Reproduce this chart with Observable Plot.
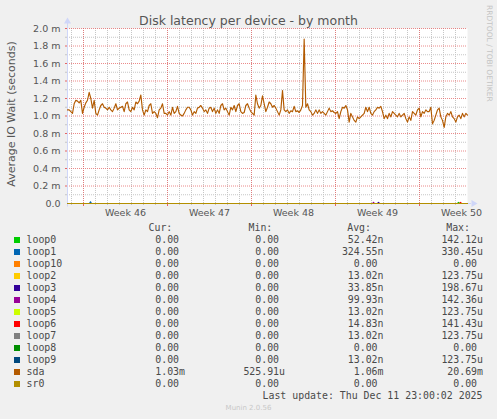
<!DOCTYPE html>
<html>
<head>
<meta charset="utf-8">
<script src="https://cdn.jsdelivr.net/npm/d3@7"></script>
<script src="https://cdn.jsdelivr.net/npm/@observablehq/plot@0.6"></script>
<style>
html, body { margin: 0; padding: 0; background: #f0f0f0; }
#wrap { position: relative; width: 497px; height: 419px; overflow: hidden; background: #f0f0f0; font-family: "DejaVu Sans", sans-serif; color: #555; }
#chart { position: absolute; left: 0; top: 0; }
.abs { position: absolute; white-space: pre; }
.mono { font-family: "DejaVu Sans Mono", monospace; font-size: 9.9px; line-height: 12px; height: 12px; color: #4a4a4a; }
</style>
</head>
<body>
<div id="wrap"><div id="chart"></div></div>
<script>
// ---------- text ----------
const title = "Disk latency per device - by month";
const yLabel = "Average IO Wait (seconds)";
const sideNote = "RRDTOOL / TOBI OETIKER";
const footer = "Munin 2.0.56";
const lastUpdate = "Last update: Thu Dec 11 23:00:02 2025";
const legendHeaders = ["Cur:", "Min:", "Avg:", "Max:"];

// ---------- time axis ----------
const rangeStart = "2025-11-08T16:00:00Z";
const rangeEnd = "2025-12-12T00:00:00Z";
const sampleMinutes = 200;
const weekStarts = ["2025-11-10", "2025-11-17", "2025-11-24", "2025-12-01", "2025-12-08"];
const weekLabels = ["Week 46", "Week 47", "Week 48", "Week 49", "Week 50"];

// ---------- value axis (milliseconds) ----------
const yTicks = [0, 0.2, 0.4, 0.6, 0.8, 1.0, 1.2, 1.4, 1.6, 1.8, 2.0];
const yTickLabels = ["0.0", "0.2 m", "0.4 m", "0.6 m", "0.8 m", "1.0 m", "1.2 m", "1.4 m", "1.6 m", "1.8 m", "2.0 m"];

// ---------- devices ----------
const devices = ["loop0", "loop1", "loop10", "loop2", "loop3", "loop4", "loop5", "loop6", "loop7", "loop8", "loop9", "sda", "sr0"];
const colors = ["#00CC00", "#0066B3", "#FF8000", "#FFCC00", "#330099", "#990099", "#CCFF00", "#FF0000", "#808080", "#008F00", "#00487D", "#B35A00", "#B38F00"];
const curValues = ["0.00", "0.00", "0.00", "0.00", "0.00", "0.00", "0.00", "0.00", "0.00", "0.00", "0.00", "1.03m", "0.00"];
const minValues = ["0.00", "0.00", "0.00", "0.00", "0.00", "0.00", "0.00", "0.00", "0.00", "0.00", "0.00", "525.91u", "0.00"];
const avgValues = ["52.42n", "324.55n", "0.00", "13.02n", "33.85n", "99.93n", "13.02n", "14.83n", "13.02n", "0.00", "13.02n", "1.06m", "0.00"];
const maxValues = ["142.12u", "330.45u", "0.00", "123.75u", "198.67u", "142.36u", "123.75u", "141.43u", "123.75u", "0.00", "123.75u", "20.69m", "0.00"];

// sda average IO wait (ms), one sample every 200 minutes from rangeStart
const sdaValues = [
  1.07,1.07,1.05,1.03,1.14,1.18,1.17,1.15,1.18,1.03,1.10,1.15,1.18,1.27,1.20,1.09,1.18,1.03,1.01,1.07,
  1.12,1.14,1.10,1.09,1.07,1.10,1.07,1.05,1.09,1.14,1.07,1.09,1.10,1.11,1.05,1.14,1.16,1.07,1.05,1.10,
  1.07,1.16,1.14,1.17,1.24,1.07,1.01,1.07,1.05,1.12,1.14,1.03,1.05,1.03,0.98,1.07,1.09,1.14,1.03,
  1.03,1.01,1.05,1.01,1.10,1.03,1.05,1.11,1.03,1.01,1.00,1.03,1.07,1.10,1.10,1.07,1.01,1.05,1.03,1.09,
  1.10,1.12,1.09,1.05,1.07,1.03,1.09,1.10,1.05,1.09,1.03,1.07,1.03,1.12,1.14,1.07,1.09,1.05,1.01,1.10,
  1.07,1.12,1.05,1.12,1.14,1.05,1.03,1.04,1.12,1.14,1.09,1.05,1.03,1.01,1.24,1.14,1.09,1.12,1.23,1.14,
  1.05,1.10,1.16,1.14,1.10,1.12,1.09,1.05,1.01,1.07,1.29,1.07,1.05,1.07,1.03,1.06,1.05,1.11,1.05,1.06,
  1.04,1.07,1.12,1.88,1.10,1.14,1.07,1.05,1.01,1.03,1.07,1.03,1.07,1.03,1.05,1.03,1.01,1.05,1.09,1.05,
  1.06,1.04,1.03,1.05,0.97,1.05,1.10,1.09,1.12,1.07,0.93,1.03,0.99,0.95,0.93,0.99,0.97,0.99,1.01,1.03,
  1.10,1.05,1.10,1.03,1.01,1.05,1.07,1.10,1.09,1.11,1.05,0.97,1.01,0.97,1.03,0.99,1.05,1.03,1.01,0.99,
  1.03,0.99,1.01,1.03,0.97,0.93,0.99,0.95,1.05,1.03,1.01,1.07,1.09,0.99,1.05,1.03,1.07,1.05,1.05,1.10,
  0.91,0.95,1.01,1.07,1.09,0.99,0.95,0.87,0.99,1.03,1.01,1.05,0.99,0.97,0.93,0.99,1.01,0.97,1.03,0.99,
  1.03,1.01
];

// tiny bursts of the loop devices (time, ms); otherwise 0
const loopBurstDevices = ["loop1", "loop4", "loop3", "loop0", "loop6"];
const loopBurstTimes = ["2025-11-10T14:00:00Z", "2025-12-04T04:00:00Z", "2025-12-04T14:00:00Z", "2025-12-11T06:00:00Z", "2025-12-11T10:00:00Z"];
const loopBurstValues = [0.02, 0.014, 0.012, 0.012, 0.012];

// ---------- build series ----------
const t0 = new Date(rangeStart), t1 = new Date(rangeEnd);
const HOUR = 3600e3, DAY = 24 * HOUR;
function seriesFor(name) {
  if (name === "sda") return sdaValues.map((v, i) => ({t: new Date(+t0 + i * sampleMinutes * 60e3), v}));
  const pts = [{t: t0, v: 0}];
  loopBurstDevices.forEach((d, k) => {
    if (d !== name) return;
    const tb = new Date(loopBurstTimes[k]);
    pts.push({t: new Date(+tb - 2 * HOUR), v: 0}, {t: tb, v: loopBurstValues[k]}, {t: new Date(+tb + 2 * HOUR), v: 0});
  });
  pts.push({t: t1, v: 0});
  return pts;
}

const weekStartDates = weekStarts.map(s => new Date(s + "T00:00:00Z"));
const weekMids = weekStartDates.map(d => new Date(+d + 3.5 * DAY));
const days = d3.utcDay.range(t0, t1);
const yMinor = d3.range(1, 20, 2).map(i => i / 10);
const yMajor = yTicks.slice(1);

const GRID = "#c6c6c6";
const MGRID = "#e46464";
const AXIS = "#CFD6F8";

const chart = Plot.plot({
  width: 497,
  height: 225,
  marginLeft: 67,
  marginRight: 30,
  marginTop: 28,
  marginBottom: 22,
  style: {background: "transparent", fontFamily: "DejaVu Sans, sans-serif", fontSize: "9.5px", color: "#555", overflow: "visible"},
  x: {type: "utc", domain: [t0, t1], axis: null},
  y: {domain: [0, 2.0], axis: null},
  marks: [
    Plot.frame({fill: "white", stroke: "none"}),
    // minor grid
    Plot.ruleY(yMinor, {stroke: GRID, strokeDasharray: "1,1"}),
    Plot.ruleX(days, {stroke: GRID, strokeDasharray: "1,1"}),
    // major grid
    Plot.ruleY(yMajor, {stroke: MGRID, strokeOpacity: 0.75, strokeDasharray: "1,1"}),
    Plot.ruleX(weekStartDates, {stroke: MGRID, strokeOpacity: 0.75, strokeDasharray: "1,1"}),
    // tick marks outside the canvas
    Plot.axisX(days, {tickSize: 2, tickFormat: () => "", stroke: GRID, label: null}),
    Plot.axisX(weekStartDates, {tickSize: 3, tickFormat: () => "", stroke: MGRID, label: null}),
    Plot.axisY(yMinor, {tickSize: 2, tickFormat: () => "", stroke: GRID, label: null}),
    Plot.axisY(yMajor, {tickSize: 2, tickFormat: () => "", stroke: MGRID, label: null}),
    // labels
    Plot.axisX(weekMids, {tickSize: 0, tickPadding: 6, tickFormat: d => weekLabels[weekMids.findIndex(m => +m === +d)], fill: "#555", fontSize: 9.5, label: null}),
    Plot.axisY(yTicks, {tickSize: 0, tickPadding: 7, tickFormat: d => yTickLabels[yTicks.indexOf(d)], fill: "#555", fontSize: 9.5, label: null}),
    // axis lines + arrows
    Plot.ruleX([t0], {y1: -0.04, y2: 2.06, stroke: AXIS}),
    Plot.ruleY([0], {x1: t0, x2: new Date(+t1 + 8 * HOUR), stroke: AXIS}),
    Plot.dot([t0], {x: d => d, y: 2.0, dy: -7, symbol: "triangle", r: 2.6, fill: AXIS, stroke: "none"}),
    Plot.dot([t1], {x: d => d, y: 0, dx: 6, symbol: "triangle", r: 2.6, rotate: 90, fill: AXIS, stroke: "none"}),
    // data lines
    ...devices.map((d, i) => Plot.line(seriesFor(d), {x: "t", y: "v", stroke: colors[i], strokeWidth: 1.15}))
  ]
});
document.getElementById("chart").appendChild(chart);

// ---------- html text ----------
const wrap = document.getElementById("wrap");
function add(text, css, cls) {
  const el = document.createElement("div");
  el.className = "abs" + (cls ? " " + cls : "");
  el.textContent = text;
  Object.assign(el.style, css);
  wrap.appendChild(el);
  return el;
}
add(title, {left: "0px", width: "497px", top: "12.5px", textAlign: "center", fontSize: "12.5px", lineHeight: "15px", color: "#555"});
add(yLabel, {left: "11px", top: "114px", fontSize: "11px", lineHeight: "13px", color: "#555", transform: "translate(-50%, -50%) rotate(-90deg)"});
add(sideNote, {left: "484.5px", top: "5px", fontSize: "7.5px", lineHeight: "9px", color: "#c4c4c4", writingMode: "vertical-rl"});
add(footer, {left: "0px", width: "497px", top: "402px", textAlign: "center", fontSize: "7px", lineHeight: "12px", color: "#c8c8c8"});

const headerRight = [172.3, 272.3, 371, 470];
legendHeaders.forEach((h, k) => add(h, {right: (497 - headerRight[k]) + "px", top: (227.7 - 6) + "px", textAlign: "right"}, "mono"));

const colRight = [185, 285, 383.5, 483];
const cols = [curValues, minValues, avgValues, maxValues];
devices.forEach((d, i) => {
  const cy = 240 + i * 12;
  const sq = document.createElement("div");
  Object.assign(sq.style, {position: "absolute", left: "14px", top: (cy - 3) + "px", width: "6px", height: "6px", background: colors[i]});
  wrap.appendChild(sq);
  add(d, {left: "26.5px", top: (cy - 6) + "px"}, "mono");
  cols.forEach((col, k) => {
    const s = col[i];
    const txt = /[0-9]$/.test(s) ? s + " " : s;
    add(txt, {right: (497 - colRight[k]) + "px", top: (cy - 6) + "px", textAlign: "right"}, "mono");
  });
});
add(lastUpdate, {right: (497 - 482.5) + "px", top: (395.5 - 6) + "px", textAlign: "right"}, "mono");
</script>
</body>
</html>
